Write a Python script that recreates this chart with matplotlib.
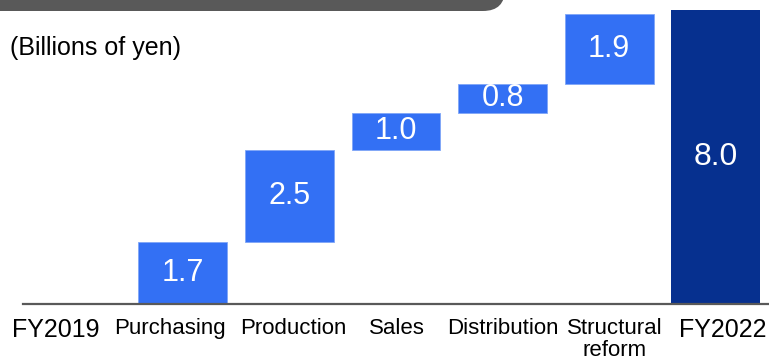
import matplotlib

matplotlib.use("Agg")
import matplotlib.pyplot as plt
from matplotlib.patches import FancyBboxPatch
import matplotlib.transforms as mtransforms

plt.rcParams["font.family"] = ["Liberation Sans", "DejaVu Sans"]

categories = ["FY2019", "Purchasing", "Production", "Sales", "Distribution", "Structural\nreform", "FY2022"]
changes = [0.0, 1.7, 2.5, 1.0, 0.8, 1.9]
total = 8.0
value_labels = ["", "1.7", "2.5", "1.0", "0.8", "1.9", "8.0"]

light = "#3370f4"
dark = "#06308f"
gray = "#595959"

fig = plt.figure(figsize=(7.69, 3.61), dpi=100)
ax = fig.add_axes([23 / 769, 57 / 361, 746 / 769, 294 / 361])

# waterfall steps
bottom = 0.0
for i, v in enumerate(changes):
    if v > 0:
        ax.bar(i, v, bottom=bottom, width=0.835, color=light, edgecolor="#7fa6f7", linewidth=0.6)
        ax.text(i, bottom + v / 2, value_labels[i], ha="center", va="center",
                color="white", fontsize=22)
    bottom += v

n = len(categories) - 1
ax.bar(n, total, width=0.835, color=dark, clip_on=False)
ax.text(n, total / 2, value_labels[n], ha="center", va="center", color="white", fontsize=23)

ax.set_xlim(-0.5, 6.5)
ax.set_ylim(0, 8.0)
for s in ["top", "right", "left"]:
    ax.spines[s].set_visible(False)
ax.spines["bottom"].set_color(gray)
ax.spines["bottom"].set_linewidth(1.6)
ax.set_yticks([])
ax.set_xticks([])

# category labels, nudged like the original slide
nudges = [-15, -9, 3, 1, 0, 4, 5]
sizes = [18, 16, 16, 16, 16, 16, 18]
for i, (lab, dx, fs) in enumerate(zip(categories, nudges, sizes)):
    tr = mtransforms.offset_copy(ax.get_xaxis_transform(), fig=fig, x=dx, y=-10, units="points")
    ax.text(i, 0, lab, transform=tr, ha="center", va="top", fontsize=fs,
            linespacing=1.08, color="black")

# header box (cut off at top)
box = FancyBboxPatch((-0.5, 3.50), 5.55, 0.6, boxstyle="round,pad=0,rounding_size=0.22",
                     transform=fig.dpi_scale_trans, facecolor=gray, edgecolor="none",
                     clip_on=False)
fig.patches.append(box)

fig.text(10 / 769, 1 - 48 / 361, "(Billions of yen)", fontsize=18, va="center", ha="left")

fig.savefig("out.png", dpi=100)
